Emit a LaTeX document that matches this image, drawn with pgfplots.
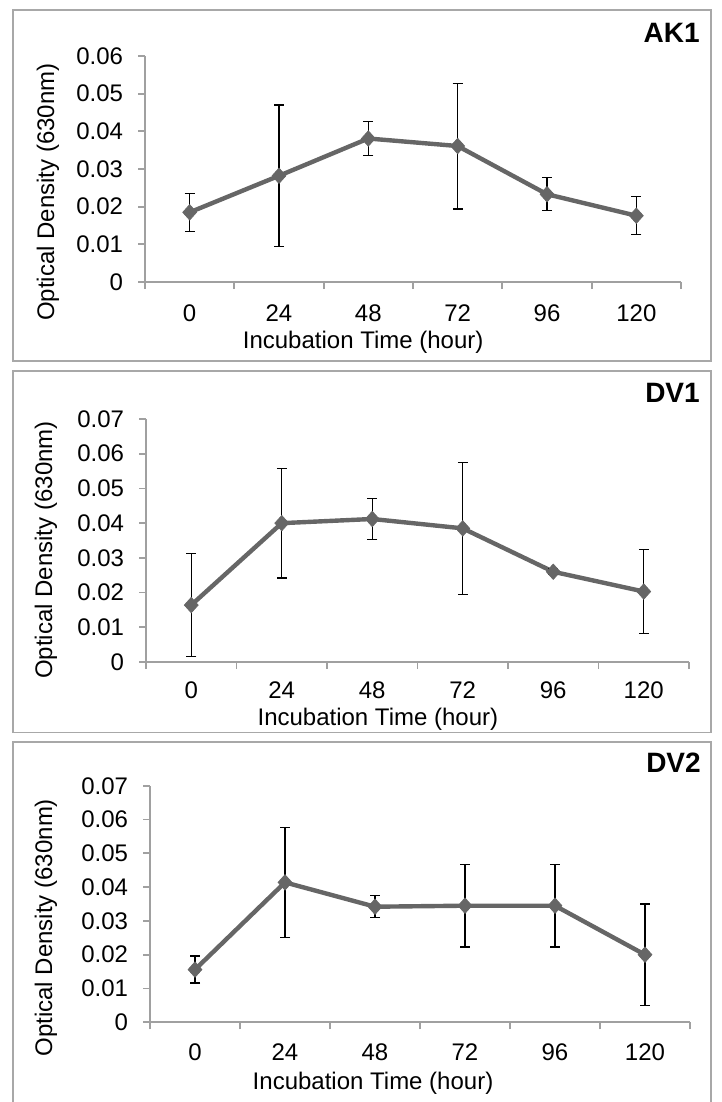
\documentclass[border=0pt]{standalone}
\usepackage{fontspec}
\setmainfont{Liberation Sans}
\usepackage{pgfplots}
\usepackage{pgfplotstable}
\pgfplotsset{compat=1.18}
\definecolor{lineg}{HTML}{666666}
\definecolor{axg}{HTML}{A0A0A0}
\definecolor{frameg}{HTML}{A8A8A8}

\pgfplotstableread{
x y e
0 0.0185 0.0051
1 0.0282 0.0188
2 0.0381 0.0046
3 0.0361 0.0167
4 0.0233 0.0044
5 0.0176 0.0050
}\akone
\pgfplotstableread{
x y e
0 0.0164 0.0148
1 0.0400 0.0158
2 0.0412 0.0058
3 0.0385 0.0190
4 0.0260 0.0008
5 0.0203 0.0122
}\dvone
\pgfplotstableread{
x y e
0 0.0156 0.0040
1 0.0414 0.0163
2 0.0342 0.0033
3 0.0345 0.0122
4 0.0345 0.0122
5 0.0200 0.0150
}\dvtwo

\newcommand{\fs}{\fontsize{18pt}{20pt}\selectfont}

\pgfplotsset{
  panel/.style={
    scale only axis, anchor=south west, clip=false,
    xmin=-0.5, xmax=5.5, ymin=0,
    scaled y ticks=false,
    axis x line*=bottom, axis y line*=left,
    axis line style={draw=axg, line width=1.3pt},
    tick align=outside,
    major tick length=5.25pt,
    every tick/.style={draw=axg, line width=1.3pt},
    xtick={-0.5,0.5,1.5,2.5,3.5,4.5,5.5},
    xticklabels={,,,,,,},
    extra x ticks={0,1,2,3,4,5},
    extra x tick labels={0,24,48,72,96,120},
    extra x tick style={major tick length=0pt,
      xticklabel style={anchor=base, inner sep=0pt, yshift=-#1}},
    yticklabel style={anchor=east, inner sep=0pt, xshift=-11pt},
    tick label style={font=\fs},
    xlabel={Incubation Time (hour)},
    ylabel={Optical Density (630nm)},
    every axis x label/.style={anchor=center, inner sep=0pt, font=\fs},
    every axis y label/.style={anchor=center, rotate=90, inner sep=0pt, font=\fs},
  },
  ser/.style={
    color=lineg, line width=3.3pt, mark=diamond*,
    mark size=5.8pt, mark options={solid, fill=lineg, draw=lineg, line width=0.5pt, xscale=1.2},
    error bars/.cd, y dir=both, y explicit,
    error bar style={black, line width=0.9pt},
    error mark options={rotate=90, black, line width=0.9pt, mark size=3.75pt},
  },
}

\begin{document}
\begin{tikzpicture}
\useasboundingbox (0,0) rectangle (540.75pt,-826.5pt);
% frames
\draw[frameg, line width=1.3pt] (9.5pt,-7.5pt) rectangle (533.25pt,-270.75pt);
\draw[frameg, line width=1.3pt] (9.5pt,-278.25pt) rectangle (533.25pt,-549.4pt);
\draw[frameg, line width=1.3pt] (9.5pt,-556.5pt) rectangle (533.25pt,-840pt);
\node[anchor=east, inner sep=0pt, font=\fontsize{21pt}{23pt}\selectfont\bfseries] at (525pt,-24.75pt) {AK1};
\node[anchor=east, inner sep=0pt, font=\fontsize{21pt}{23pt}\selectfont\bfseries] at (525pt,-294.75pt) {DV1};
\node[anchor=east, inner sep=0pt, font=\fontsize{21pt}{23pt}\selectfont\bfseries] at (525.75pt,-572.25pt) {DV2};

\begin{axis}[panel=29.7pt, at={(108.75pt,-211.5pt)}, width=402pt, height=169.5pt,
  ymax=0.06, ytick={0,0.01,0.02,0.03,0.04,0.05,0.06},
  yticklabels={0,0.01,0.02,0.03,0.04,0.05,0.06},
  xlabel style={at={([yshift=-45pt]axis description cs:0.407,0)}},
  ylabel style={at={([xshift=-72.75pt]axis description cs:0,0.398)}}]
\addplot+[ser] table[x=x, y=y, y error=e] {\akone};
\end{axis}

\begin{axis}[panel=27.3pt, at={(109.5pt,-496.5pt)}, width=407.25pt, height=182.25pt,
  ymax=0.07, ytick={0,0.01,0.02,0.03,0.04,0.05,0.06,0.07},
  yticklabels={0,0.01,0.02,0.03,0.04,0.05,0.06,0.07},
  xlabel style={at={([yshift=-42.75pt]axis description cs:0.427,0)}},
  ylabel style={at={([xshift=-75pt]axis description cs:0,0.461)}}]
\addplot+[ser] table[x=x, y=y, y error=e] {\dvone};
\end{axis}

\begin{axis}[panel=29pt, at={(112.5pt,-766.7pt)}, width=405pt, height=177.4pt,
  ymax=0.07, ytick={0,0.01,0.02,0.03,0.04,0.05,0.06,0.07},
  yticklabels={0,0.01,0.02,0.03,0.04,0.05,0.06,0.07},
  xlabel style={at={([yshift=-45.75pt]axis description cs:0.413,0)}},
  ylabel style={at={([xshift=-78pt]axis description cs:0,0.40)}}]
\addplot+[ser] table[x=x, y=y, y error=e] {\dvtwo};
\end{axis}
\end{tikzpicture}
\end{document}
